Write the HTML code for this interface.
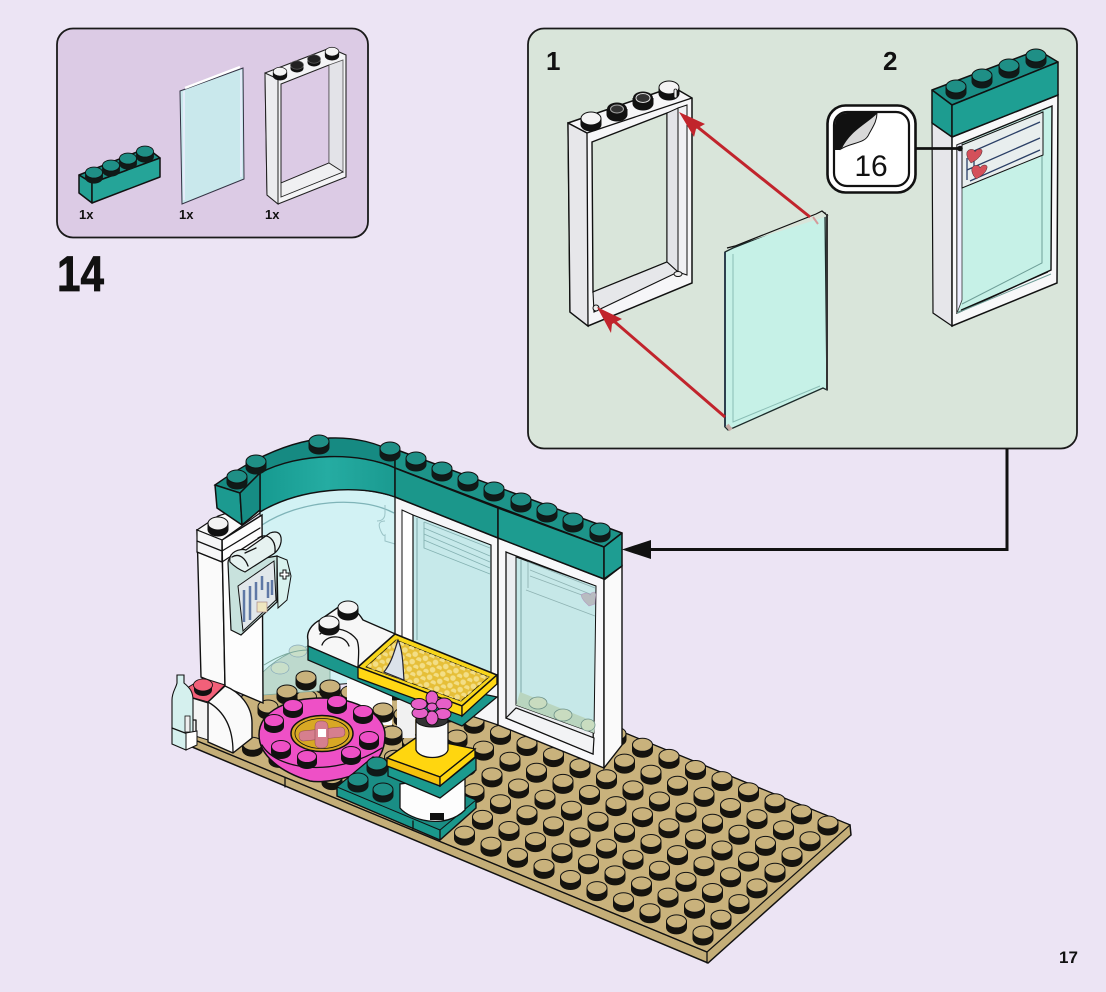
<!DOCTYPE html>
<html><head><meta charset="utf-8"><style>
html,body{margin:0;padding:0;background:#ece4f4}
svg{display:block}
text{font-family:"Liberation Sans",sans-serif;fill:#111}
.k{stroke:#111;stroke-width:1.5;stroke-linejoin:round}
.l{fill:none;stroke:#111;stroke-width:1.3;stroke-linecap:round;stroke-linejoin:round}
</style></head><body>
<svg width="1106" height="992" viewBox="0 0 1106 992" xmlns="http://www.w3.org/2000/svg">
<defs>
<g id="s"><path d="M-10.500 0v5.500a10.500 7 0 0 0 21 0v-5.500z" fill="#15130e"/><ellipse rx="10" ry="6.500" cy="-.5" fill="#c9b27c" stroke="#111" stroke-width="1"/></g>
<g id="t"><path d="M-10.500 0v5.500a10.500 7 0 0 0 21 0v-5.500z" fill="#101a18"/><ellipse rx="10" ry="6.500" cy="-.5" fill="#1f8f86" stroke="#111" stroke-width="1"/></g>
<g id="p"><path d="M-10 0v5.500a10 6.500 0 0 0 20 0v-5.500z" fill="#111"/><ellipse rx="9.500" ry="6" cy="-.5" fill="#ee50c6" stroke="#111" stroke-width="1"/></g>
<g id="w"><path d="M-10.500 0v5.500a10.500 7 0 0 0 21 0v-5.500z" fill="#111"/><ellipse rx="10" ry="6.500" cy="-.5" fill="#f4f4f4" stroke="#111" stroke-width="1"/></g>
<g id="r">
<use href="#s"/><use href="#s" x="-26.500" y="-11.100"/><use href="#s" x="-53" y="-22.200"/><use href="#s" x="-79.500" y="-33.300"/><use href="#s" x="-106" y="-44.400"/><use href="#s" x="-132.500" y="-55.500"/><use href="#s" x="-159" y="-66.600"/><use href="#s" x="-185.500" y="-77.700"/><use href="#s" x="-212" y="-88.800"/><use href="#s" x="-238.500" y="-99.900"/><use href="#s" x="-265" y="-111"/><use href="#s" x="-291.500" y="-122.100"/><use href="#s" x="-318" y="-133.200"/><use href="#s" x="-344.500" y="-144.300"/><use href="#s" x="-371" y="-155.400"/><use href="#s" x="-397.500" y="-166.500"/><use href="#s" x="-424" y="-177.600"/><use href="#s" x="-450.500" y="-188.700"/>
</g>
<linearGradient id="cv" x1="0" x2="1" y1="0" y2="0"><stop offset="0" stop-color="#169a90"/><stop offset=".5" stop-color="#25aca2"/><stop offset="1" stop-color="#1a9a90"/></linearGradient>
<pattern id="dots" width="11" height="8" patternUnits="userSpaceOnUse" patternTransform="rotate(22)"><circle cx="3" cy="3" r="2.800" fill="#f3de86"/><circle cx="8.500" cy="7" r="2.800" fill="#f3de86"/></pattern>
</defs>
<rect width="1106" height="992" fill="#ece4f4"/>

<!-- parts panel -->
<rect x="57" y="28.500" width="311" height="209" rx="16" fill="#dccbe5" stroke="#1a1a1a" stroke-width="1.800"/>
<polygon points="79,175 92,183 160,158 147,148" fill="#1c8d84" class="k"/>
<polygon points="79,175 92,183 92,203 79,193" fill="#23a094" class="k"/>
<polygon points="92,183 160,158 160,177 92,203" fill="#25a498" class="k"/>
<g transform="translate(94,173) scale(.85)"><use href="#t"/></g><g transform="translate(111,166) scale(.85)"><use href="#t"/></g><g transform="translate(128,159) scale(.85)"><use href="#t"/></g><g transform="translate(145,152) scale(.85)"><use href="#t"/></g>
<polygon points="180,91 243,68 244,179 182,204" fill="#c9e8ec" stroke="#334" stroke-width="1"/>
<path d="M185 88L240 67" stroke="#fff" stroke-width="2.500" fill="none"/>
<path d="M184 91V200M241 70V177" stroke="#eef" stroke-width="1.500" fill="none"/>
<polygon points="265,73 330,48 346,55 346,177 278,204 267,195" fill="#f4f4f6" stroke="#222" stroke-width="1.100"/>
<polygon points="281,84 329,65 329,163 281,183" fill="#dccbe5" stroke="#222" stroke-width="1"/>
<polygon points="265,73 278,79 278,204 267,195" fill="#ececef" stroke="#222" stroke-width="1"/>
<polygon points="329,65 343,60 343,172 329,163" fill="#e3e3e8" stroke="#555" stroke-width=".8"/>
<polygon points="281,183 329,163 343,172 281,197" fill="#f0f0f2" stroke="#222" stroke-width=".9"/>
<g transform="translate(280,72) scale(.68)"><use href="#w"/></g><g transform="translate(297,65) scale(.65)"><path d="M-10 0v5a10 6.500 0 0 0 20 0v-5z" fill="#111"/><ellipse rx="10" ry="6.500" fill="#222" stroke="#666"/></g><g transform="translate(314,59) scale(.65)"><path d="M-10 0v5a10 6.500 0 0 0 20 0v-5z" fill="#111"/><ellipse rx="10" ry="6.500" fill="#222" stroke="#666"/></g><g transform="translate(332,52) scale(.68)"><use href="#w"/></g>
<text x="79" y="219" font-size="13" font-weight="700">1x</text>
<text x="179" y="219" font-size="13" font-weight="700">1x</text>
<text x="265" y="219" font-size="13" font-weight="700">1x</text>
<text x="57" y="291" font-size="50" font-weight="700" textLength="47" lengthAdjust="spacingAndGlyphs" stroke="#111" stroke-width=".8">14</text>

<!-- sub-steps panel -->
<rect x="528" y="28.500" width="549" height="420" rx="16" fill="#d9e5da" stroke="#1a1a1a" stroke-width="1.800"/>
<text x="546" y="70" font-size="26" font-weight="700">1</text>
<text x="883" y="70" font-size="26" font-weight="700">2</text>

<!-- frame 1 -->
<polygon points="568,123 673,87 692,98 692,283 588,326 570,312" fill="#f6f6f8" stroke="#111" stroke-width="1.500"/>
<polygon points="568,123 587,133 588,326 570,312" fill="#e7e7ea" stroke="#111" stroke-width="1.300"/>
<polygon points="592,142 667,113 667,262 593,292" fill="#d9e5da" stroke="#111" stroke-width="1.400"/>
<polygon points="667,113 678,108 678,272 667,262" fill="#e3e4e8" stroke="#111" stroke-width="1"/>
<polygon points="678,108 687,105 687,275 678,272" fill="#f0f0f3" stroke="#111" stroke-width="1"/>
<polygon points="593,292 667,262 678,272 594,312" fill="#e6e7ea" stroke="#111" stroke-width="1.100"/>
<ellipse cx="678" cy="274" rx="4" ry="2.500" fill="#eee" stroke="#111"/>
<ellipse cx="596" cy="308" rx="3" ry="3" fill="#eee" stroke="#111"/>
<path d="M568 123L587 133L692 98" class="l"/>
<g transform="translate(591,119)"><use href="#w"/></g>
<g transform="translate(617,109)"><path d="M-10.500 0v5.500a10.500 7 0 0 0 21 0v-5.500z" fill="#111"/><ellipse rx="10" ry="6.500" fill="#111"/><ellipse rx="6.500" ry="4" fill="#333" stroke="#aaa"/></g>
<g transform="translate(643,98)"><path d="M-10.500 0v5.500a10.500 7 0 0 0 21 0v-5.500z" fill="#111"/><ellipse rx="10" ry="6.500" fill="#111"/><ellipse rx="7" ry="4.500" fill="#333" stroke="#ddd"/></g>
<g transform="translate(669,88)"><use href="#w"/></g>
<rect x="674" y="89" width="3" height="9" rx="1.500" fill="#eee" stroke="#111" stroke-width=".8"/>

<!-- glass -->
<polygon points="725,252 733,248 819,214 825,213 827,390 823,388 733,428 728,430 725,427" fill="#c6f1e7" stroke="#1c2b2a" stroke-width="1.300"/>
<path d="M733 254L733 422L820 386" fill="none" stroke="#8abdb5" stroke-width="1"/>
<path d="M727 248L735 246L816 214L822 211L828 216" fill="#d9e5da" stroke="#111" stroke-width="1.200"/>
<path d="M827 214V390" stroke="#333" stroke-width="2"/>
<path d="M725 252V427" stroke="#234" stroke-width="1.800"/>
<path d="M727 425L731 430" stroke="#c5a9a5" stroke-width="4"/>
<path d="M813 217L818 224" stroke="#d49a9a" stroke-width="2"/>

<!-- red arrows -->
<path d="M810 217L690 121" stroke="#c1242c" stroke-width="3" fill="none"/>
<polygon points="679,112 705,124 696,129 694,137" fill="#c1242c"/>
<path d="M725 417L608 316" stroke="#c1242c" stroke-width="3" fill="none"/>
<polygon points="597,307 622,319 612,324 611,333" fill="#c1242c"/>

<!-- frame 2 -->
<polygon points="932,123 952,137 952,326 933,313" fill="#e6e6ea" stroke="#111" stroke-width="1.200"/>
<polygon points="952,137 1058,95 1057,283 952,326" fill="#f8f8f9" stroke="#111" stroke-width="1.500"/>
<polygon points="957,145 1052,106 1051,270 957,313" fill="#c6f1e7" stroke="#111" stroke-width="1.400"/>
<polygon points="957,145 962,143 962,300 957,313" fill="#eef" stroke="#333" stroke-width=".8"/>
<path d="M962 304L1042 263L1042 110M957 313L1051 274" fill="none" stroke="#6e9e97" stroke-width="1"/>
<path d="M961 310L1048 272" stroke="#111" stroke-width="1" fill="none"/>
<polygon points="962,145 1043,112 1043,155 962,188" fill="#e8eeee" stroke="#111" stroke-width="1"/>
<path d="M967 154L1040 122M967 170L1040 138M970 181L1040 150M967 158V180M974 152V176" fill="none" stroke="#2a3f66" stroke-width="1.300"/>
<path d="M967 152c2-4 8-3 8 0c2-4 8-4 7 0c-1 5-7 9-11 11c-2-3-5-6-4-11z" fill="#d4505a" stroke="#3a2a30" stroke-width=".5"/>
<path d="M972 168c2-4 8-3 8 0c2-4 8-4 7 0c-1 5-7 9-11 11c-2-3-5-6-4-11z" fill="#d4505a" stroke="#3a2a30" stroke-width=".5"/>
<polygon points="932,90 1038,50 1058,62 952,105" fill="#1a8d85" class="k"/>
<polygon points="932,90 952,105 952,137 932,123" fill="#1d9c90" class="k"/>
<polygon points="952,105 1058,62 1058,95 952,137" fill="#1e9f93" class="k"/>
<use href="#t" x="956" y="87"/><use href="#t" x="982" y="76"/><use href="#t" x="1009" y="66"/><use href="#t" x="1036" y="56"/>

<!-- callout -->
<path d="M916 148.500H960" stroke="#111" stroke-width="2.800"/>
<circle cx="960" cy="148.500" r="2.800" fill="#111"/>
<rect x="827.500" y="105.500" width="88" height="87" rx="18" fill="#fff" stroke="#111" stroke-width="2.600"/>
<rect x="834" y="112" width="75" height="74" rx="13" fill="#fff" stroke="#111" stroke-width="2.200"/>
<path d="M835 150V125a12 12 0 0 1 12-12H877C868 124 850 130 840 150z" fill="#111"/>
<path d="M841 149C850 130 866 124 877 113C877 122 872 128 869 134C865 144 852 142 841 149z" fill="#d8d8d8" stroke="#111" stroke-width="1"/>
<text x="871" y="176" font-size="30" text-anchor="middle">16</text>

<!-- connector -->
<path d="M1007 449V549.500H640" fill="none" stroke="#111" stroke-width="3"/>
<polygon points="622,549.500 651,540 651,559" fill="#111"/>

<!-- baseplate -->
<polygon points="190,738 262,680 620,731 850,825 851,835 708,963 192,747" fill="#c4ae78" stroke="#111" stroke-width="1.500"/>
<polygon points="190,738 262,680 620,731 850,825 707,952" fill="#c9b27c" stroke="#111" stroke-width="1.200"/>
<path d="M707 952V963M707 952L190 738" class="l"/>
<path d="M285 778v9" class="l"/>
<use href="#r" x="703" y="933"/><use href="#r" x="721" y="917.300"/><use href="#r" x="739" y="901.600"/><use href="#r" x="757" y="885.900"/><use href="#r" x="775" y="870.200"/><use href="#r" x="792" y="854.500"/><use href="#r" x="810" y="838.800"/><use href="#r" x="828" y="823"/>

<!-- curved glass -->
<path d="M260 510C300 488 350 483 395 497V680L263 690z" fill="#d2f2f4" stroke="#111" stroke-width="1"/>
<path d="M262 525C300 500 360 495 394 513" fill="none" stroke="#7fb4b8" stroke-width="1.300"/>
<path d="M385 505v8q0 8-8 8M385 521q-8 0-5 8t5 6v6l10 3" fill="none" stroke="#9ac3c6" stroke-width="1"/>
<path d="M263 672C280 655 300 648 315 644L330 650L330 690L263 695z" fill="#bdd9cd" stroke="#7ba89c" stroke-width=".8"/>
<ellipse cx="280" cy="668" rx="9" ry="6" fill="#c9dfc9" stroke="#8ab" stroke-width=".7"/>
<ellipse cx="298" cy="651" rx="9" ry="6" fill="#c9dfc9" stroke="#8ab" stroke-width=".7"/>
<path d="M264 665C285 652 300 650 308 650" fill="none" stroke="#7ba89c"/>
<polygon points="289,488 308,480 308,488 292,492" fill="#c8ecea" stroke="#111" stroke-width=".8"/>
<polygon points="336,483 358,481 358,487 337,488" fill="#c8ecea" stroke="#111" stroke-width=".8"/>
<!-- stud row near glass -->
<use href="#s" x="306" y="678"/><use href="#s" x="330" y="687"/><use href="#s" x="287" y="692"/><use href="#s" x="268" y="707"/>

<!-- window 1 -->
<polygon points="395,497 498,538 498,725 395,690" fill="#f6f6f8" stroke="#111" stroke-width="1.300"/>
<polygon points="402,510 413,515 413,660 402,660" fill="#fff" stroke="#111" stroke-width="1"/>
<polygon points="413,515 491,545 491,680 413,650" fill="#c6e9ea" stroke="#111" stroke-width="1.200"/>
<path d="M417 518V640" stroke="#7fa9a9" fill="none"/>
<path d="M424 522L490 548M424 528L490 556M424 534L490 562M424 540L490 568M424 522V548L490 574" fill="none" stroke="#85b2b2" stroke-width=".9"/>
<!-- window 2 -->
<polygon points="498,538 604,579 604,768 498,725" fill="#f8f8fa" stroke="#111" stroke-width="1.400"/>
<polygon points="604,580 622,566 622,745 604,768" fill="#fafafa" stroke="#111" stroke-width="1.400"/>
<polygon points="506,552 595,586 593,754 506,718" fill="#eceef1" stroke="#111" stroke-width="1.300"/>
<polygon points="516,557 596,586 594,733 516,705" fill="#c6e8e8" stroke="#111" stroke-width="1"/>
<path d="M521 560V700" stroke="#7fa9a9" fill="none"/>
<path d="M528 562L595 588M530 570L595 596M530 576L590 598M526 590L595 616M528 562V588" fill="none" stroke="#8fb3b3" stroke-width=".9"/>
<path d="M581 595c4-3 8-2 9 0c2-4 6-4 6 0l-1 9l-6 2c-3-3-7-6-8-11z" fill="#b8bcc0" stroke="#93a" stroke-opacity=".3" stroke-width=".6"/>
<polygon points="520,692 595,722 594,733 516,705" fill="#b9d5bf"/>
<ellipse cx="538" cy="703" rx="9" ry="6" fill="#c9dcc0" stroke="#6d9189" stroke-width=".8"/>
<ellipse cx="563" cy="715" rx="9" ry="6" fill="#c9dcc0" stroke="#6d9189" stroke-width=".8"/>
<ellipse cx="588" cy="725" rx="7" ry="6" fill="#c9dcc0" stroke="#6d9189" stroke-width=".8"/>
<path d="M516 708L594 738" stroke="#111" fill="none"/>
<polygon points="506,718 516,708 594,738 593,754" fill="#f2f3f5" stroke="#111" stroke-width="1.200"/>

<!-- column -->
<polygon points="197,530 222,540 225,687 201,677" fill="#fafafa" stroke="#111" stroke-width="1.400"/>
<polygon points="222,540 262,515 263,703 225,687" fill="#fdfdfd" stroke="#111" stroke-width="1.400"/>
<polygon points="197,530 218,516 260,502 260,513 222,540" fill="#fafafa" stroke="#111" stroke-width="1.200"/>
<polygon points="197,530 222,540 222,562 197,552" fill="#f6f6f7" stroke="#111" stroke-width="1.200"/>
<path d="M197 541L222 551L260 528M197 552L222 562M222 540V562L262 536" class="l"/>
<use href="#w" x="218" y="524"/>

<!-- curved beam and beams -->
<path d="M215 485C250 460 290 440 330 438C355 437 378 443 395 453L395 468C370 455 300 452 260 473L240 493z" fill="#168a82" stroke="#111" stroke-width="1.400"/>
<path d="M260 473C300 452 360 452 395 468V497C360 484 300 488 260 512z" fill="url(#cv)" stroke="#111" stroke-width="1.400"/>
<polygon points="215,485 240,493 242,525 217,508" fill="#1c9a90" class="k"/>
<polygon points="240,493 260,473 260,510 242,525" fill="#168c84" class="k"/>
<polygon points="395,453 400,451 622,533 604,547 395,468" fill="#1d9489" class="k"/>
<polygon points="395,468 498,508 498,538 395,497" fill="#1b978b" class="k"/>
<polygon points="498,508 604,547 604,579 498,538" fill="#1d9c90" class="k"/>
<polygon points="604,547 622,533 622,566 604,579" fill="#1e9d92" class="k"/>
<use href="#t" x="237" y="477"/><use href="#t" x="256" y="462"/><use href="#t" x="319" y="442"/><use href="#t" x="390" y="449"/><use href="#t" x="416" y="459"/><use href="#t" x="442" y="469"/><use href="#t" x="468" y="479"/><use href="#t" x="494" y="489"/><use href="#t" x="521" y="500"/><use href="#t" x="547" y="510"/><use href="#t" x="573" y="520"/><use href="#t" x="600" y="530"/>

<!-- clipboard -->
<polygon points="277,556 287,560 291,576 287,600 278,608" fill="#d8f2ee" stroke="#111" stroke-width="1"/>
<path d="M280 573h3v-3h3v3h3v3h-3v3h-3v-3h-3z" fill="#fff" stroke="#111" stroke-width="1"/>
<path d="M228 563C228 555 238 555 242 562L277 556V602L241 635L231 630z" fill="#c8e2dd" stroke="#111" stroke-width="1.200"/>
<polygon points="238,586 274,561 276,600 243,631" fill="#e1e7ea" stroke="#111" stroke-width="1"/>
<path d="M244 590V622M250 586V620M256 582V600M262 576V590M268 582V598M272 580V595" stroke="#5f78a5" stroke-width="2.500" fill="none"/>
<rect x="257" y="602" width="10" height="10" fill="#efe6bf" stroke="#a88" stroke-width=".7"/>
<path d="M230 562C228 552 240 548 246 550L270 533C278 530 282 534 281 542C280 548 276 553 270 556L245 572C240 570 234 566 230 562z" fill="#e6f2f0" stroke="#111" stroke-width="1.200"/>
<path d="M232 557C240 552 246 560 248 566M258 538C268 532 276 540 275 552M245 553L256 548" class="l" stroke-width="1"/>

<!-- bench -->
<path d="M347 680H392V725H347z" fill="#fbfbfb"/>
<path d="M397 700H415V738H397z" fill="#f1f1f1"/>
<use href="#s" x="383" y="710"/><use href="#s" x="392" y="733"/>
<path d="M308 640C306 632 312 624 320 620L340 606C350 602 360 615 363 620L400 636L358 668L308 646z" fill="#f7f7f7" stroke="#111" stroke-width="1.400"/>
<path d="M320 634C330 625 348 628 357 640C360 648 358 660 358 668" class="l"/>
<path d="M322 645C326 634 345 634 349 646" class="l" stroke-width="1"/>
<use href="#w" x="348" y="608"/><use href="#w" x="329" y="623"/>
<polygon points="308,646 359,668 497,697 462,726 308,660" fill="#1b978c" stroke="#111" stroke-width="1.300"/>
<polygon points="358,667 395,634 497,675 462,706" fill="#f8d61a" stroke="#111" stroke-width="1.600"/>
<polygon points="358,667 462,706 462,716 358,678" fill="#ffd814" stroke="#111" stroke-width="1.300"/>
<polygon points="462,706 497,675 497,684 462,716" fill="#ffd814" stroke="#111" stroke-width="1.300"/>
<polygon points="366,667 396,640 489,677 461,701" fill="#e6bf38" stroke="#111" stroke-width=".8"/>
<polygon points="366,667 396,640 489,677 461,701" fill="url(#dots)"/>
<path d="M384 672C392 662 394 652 398 640C403 650 403 668 404 680z" fill="#dbe2ea" stroke="#223" stroke-width="1.200"/>

<!-- pink table -->
<path d="M259 735C259 710 290 698 322 698C358 698 385 715 385 735C385 752 377 765 360 772C345 780 320 783 310 781C280 772 259 755 259 735z" fill="#ee50c6" stroke="#111" stroke-width="1.500"/>
<path d="M262 745C275 768 330 780 382 748" class="l"/>
<ellipse cx="322" cy="733.500" rx="31" ry="18" fill="#d8a824" stroke="#111" stroke-width="1.500"/>
<ellipse cx="322" cy="733.500" rx="27" ry="15" fill="none" stroke="#111" stroke-width=".8"/>
<g fill="#d67f8e" stroke="#8a4a50" stroke-width=".5">
<rect x="299" y="729" width="46" height="10" rx="4" transform="rotate(-6 322 734)"/>
<rect x="315" y="721" width="13" height="27" rx="5"/>
</g>
<rect x="318" y="729" width="8" height="8" fill="#fff"/>
<use href="#p" x="274" y="721"/><use href="#p" x="293" y="706"/><use href="#p" x="337" y="702"/><use href="#p" x="363" y="712"/><use href="#p" x="369" y="738"/><use href="#p" x="351" y="753"/><use href="#p" x="307" y="757"/><use href="#p" x="281" y="747"/>

<!-- arch & bottle -->
<polygon points="187,688 203,678 225,685 208,702 190,697" fill="#f26079" stroke="#111" stroke-width="1"/>
<path d="M194 685v5a9 6 0 0 0 18 0v-5z" fill="#111"/>
<ellipse cx="203" cy="685" rx="9.500" ry="6" fill="#f26079" stroke="#111" stroke-width=".8"/>
<polygon points="192,698 208,703 208,740 192,735" fill="#f4f4f4" stroke="#111" stroke-width="1"/>
<path d="M208 702L225 686C240 692 252 706 252 723V738L233 753L208 742z" fill="#fafafa" stroke="#111" stroke-width="1.400"/>
<path d="M208 702C222 710 233 725 233 752" class="l"/>
<path d="M190 698V720H196V735" class="l"/>
<path d="M177 675H184V683C190 688 193 692 193 700V745L186 750L172 744V700C172 692 176 688 177 683z" fill="#d5f0ee" stroke="#111" stroke-width="1.100"/>
<path d="M172 728L193 736" class="l"/>
<rect x="185" y="716" width="5" height="16" fill="#eee" stroke="#111" stroke-width=".8"/>
<path d="M186 733L197 731V745L186 750z" fill="#fff" stroke="#111"/>

<!-- teal plate & yellow stack -->
<polygon points="337,787 373,757 476,800 476,808 440,840 337,796" fill="#1a988c" stroke="#111" stroke-width="1.400"/>
<polygon points="337,787 373,757 476,800 440,830" fill="#1a8e85" stroke="#111" stroke-width="1"/>
<path d="M440 830V840M413 821V829" class="l"/>
<use href="#t" x="377" y="764"/><use href="#t" x="358" y="780"/><use href="#t" x="383" y="790"/>
<path d="M400 784V808C410 820 445 830 465 810V776z" fill="#fdfdfd" stroke="#111" stroke-width="1.300"/>
<rect x="430" y="813" width="14" height="7" fill="#111"/>
<polygon points="388,765 440,786 476,757 476,770 440,798 388,776" fill="#1b9a8e" stroke="#111" stroke-width="1.300"/>
<polygon points="387,758 417,737 475,749 440,777" fill="#ffd60f" stroke="#111" stroke-width="1.400"/>
<polygon points="387,758 440,777 440,786 387,766" fill="#f5c20c" stroke="#111" stroke-width="1.300"/>
<polygon points="440,777 475,749 475,757 440,786" fill="#ffd60f" stroke="#111" stroke-width="1.300"/>
<path d="M416 720V750C420 760 445 760 448 750V720z" fill="#fafafa" stroke="#111" stroke-width="1.300"/>
<ellipse cx="432" cy="720" rx="16" ry="7" fill="#333" stroke="#111"/>
<g fill="#e65fc8" stroke="#111" stroke-width=".9">
<ellipse cx="432" cy="698" rx="6" ry="7"/><ellipse cx="444" cy="704" rx="8" ry="6"/><ellipse cx="443" cy="714" rx="8" ry="5.500"/><ellipse cx="432" cy="718" rx="6" ry="7"/><ellipse cx="420" cy="713" rx="8" ry="5.500"/><ellipse cx="419" cy="704" rx="8" ry="5.500"/>
<ellipse cx="432" cy="707" rx="5" ry="4"/>
</g>

<text x="1059" y="963" font-size="17" font-weight="700">17</text>
</svg>
</body></html>
